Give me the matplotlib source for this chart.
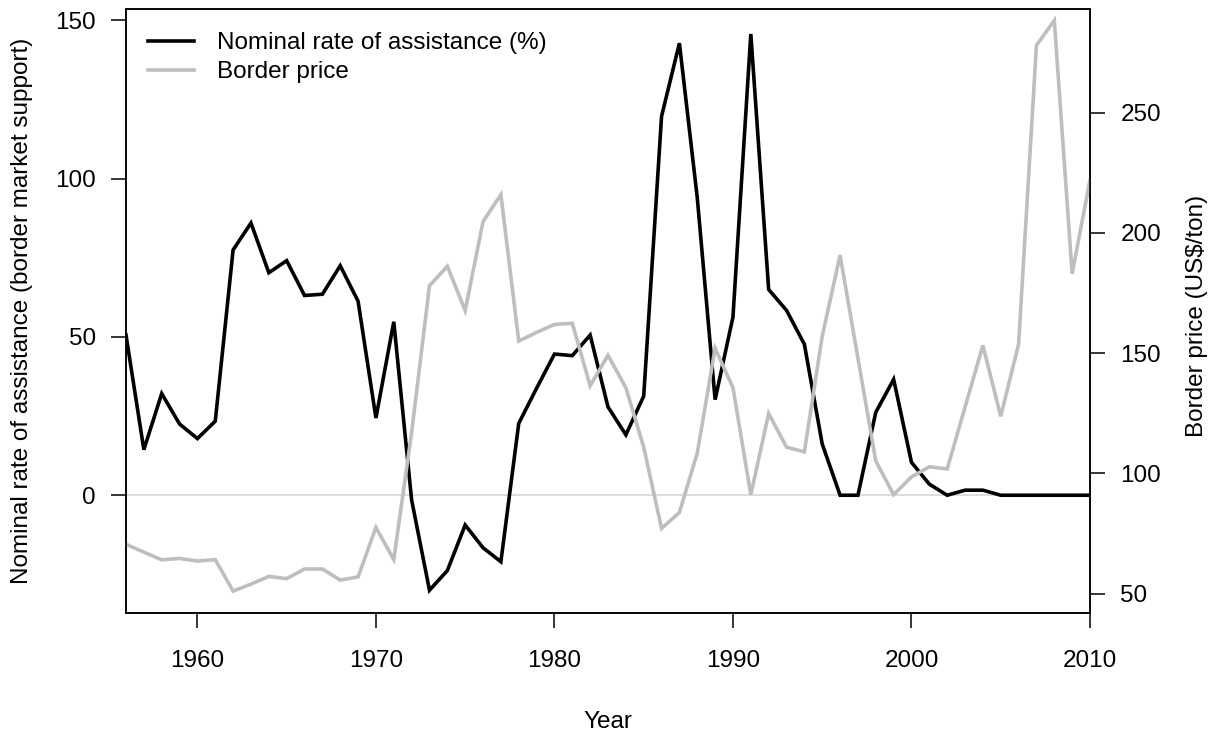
import numpy as np
import matplotlib
matplotlib.use("Agg")
import matplotlib.pyplot as plt

plt.rcParams['font.family'] = ['Liberation Sans', 'DejaVu Sans']

years = np.arange(1956, 2011)

# nominal rate of assistance (%), left axis
nra = [50.6, 14.4, 32.1, 22.5, 17.9, 23.4, 77.5, 86.0, 70.3, 74.1,
       63.1, 63.5, 72.5, 61.3, 24.4, 54.8, -1.5, -30.0, -23.8, -9.4,
       -16.6, -21.0, 22.7, 33.8, 44.6, 44.1, 50.6, 27.9, 19.1, 31.3,
       119.7, 142.8, 94.0, 30.2, 56.3, 145.7, 65.0, 58.4, 47.7, 16.2,
       0.0, 0.0, 26.2, 36.6, 10.4, 3.5, 0.0, 1.6, 1.6, 0.0,
       0.0, 0.0, 0.0, 0.0, 0.0]

# border price (US$/ton), right axis
border = [70.5, 67.2, 64.0, 64.6, 63.5, 64.1, 51.0, 53.9, 57.1, 56.2,
          60.2, 60.2, 55.6, 56.9, 77.5, 64.1, 117.0, 178.0, 186.1, 167.7,
          204.7, 215.9, 155.0, 158.6, 161.9, 162.4, 136.4, 149.1, 135.6, 110.9,
          77.1, 83.7, 108.4, 152.0, 135.6, 91.1, 124.9, 110.9, 108.9, 157.0,
          190.7, 147.9, 105.1, 91.1, 98.5, 102.7, 101.8, 127.5, 153.2, 123.7,
          153.7, 278.0, 288.3, 183.0, 222.0]

left_ticks = [0, 50, 100, 150]
right_ticks = [50, 100, 150, 200, 250]
x_ticks = [1960, 1970, 1980, 1990, 2000, 2010]

FS = 17.5
W, H = 1222, 738
fig = plt.figure(figsize=(W / 100, H / 100), dpi=100)
ax = fig.add_axes([126 / W, 1 - 613 / H, (1090 - 126) / W, (613 - 9) / H])

ax.axhline(0, color='#D3D3D3', lw=1.1, zorder=1)
l1, = ax.plot(years, nra, color='black', lw=2.6, solid_joinstyle='miter',
              label='Nominal rate of assistance (%)', zorder=2)
ax.set_xlim(1956, 2010)
ax.set_ylim(-37.2, 153.6)
ax.set_xticks(x_ticks)
ax.set_yticks(left_ticks)

ax2 = ax.twinx()
l2, = ax2.plot(years, border, color='#BEBEBE', lw=2.6, solid_joinstyle='miter',
               label='Border price')
ax2.set_ylim(41.9, 293.1)
ax2.set_yticks(right_ticks)

for a in (ax, ax2):
    for s in a.spines.values():
        s.set_linewidth(1.1)
ax.tick_params(axis='both', direction='out', length=10.8, width=1.1,
               labelsize=FS)
ax.tick_params(axis='x', pad=16)
ax.tick_params(axis='y', pad=11)
ax2.tick_params(axis='y', direction='out', length=10.8, width=1.1,
                labelsize=FS, pad=11)

fig.text(22 / W, 1 - 311 / H,
         'Nominal rate of assistance (border market support)',
         rotation=90, ha='center', va='center', fontsize=FS)
fig.text(1197 / W, 1 - 316 / H, 'Border price (US$/ton)',
         rotation=90, ha='center', va='center', fontsize=FS)
fig.text(607.5 / W, 1 - 722 / H, 'Year', ha='center', va='center',
         fontsize=FS)

ax2.legend(handles=[l1, l2], loc='upper left', frameon=False, fontsize=FS,
           bbox_to_anchor=(148 / W, 1 - 32 / H), bbox_transform=fig.transFigure,
           borderpad=0, borderaxespad=0, handlelength=1.9,
           handletextpad=0.95, labelspacing=0.3)

fig.savefig('out.png', dpi=100)
